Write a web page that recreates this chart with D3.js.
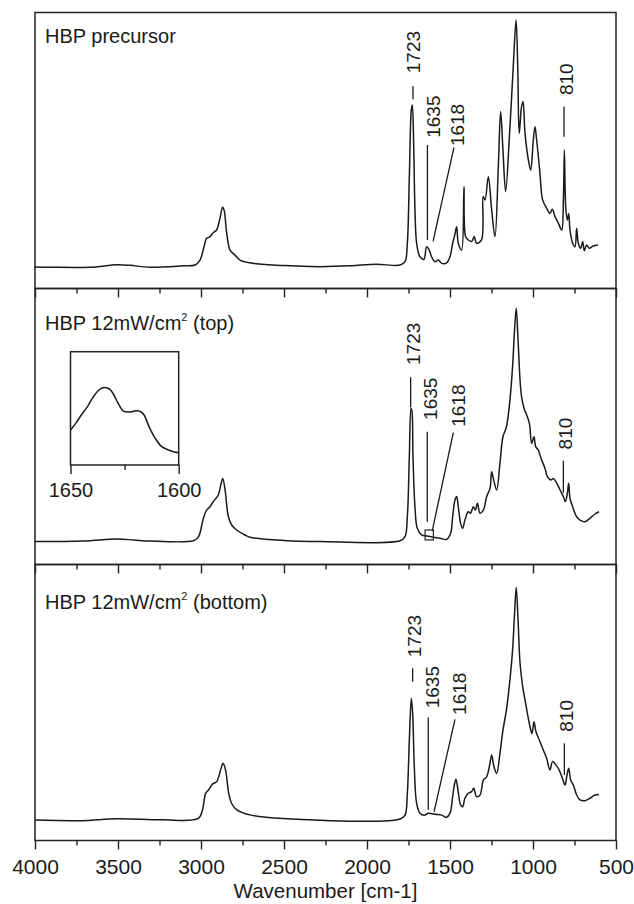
<!DOCTYPE html>
<html lang="en">
<head>
<meta charset="UTF-8">
<title>FTIR spectra</title>
<script src="https://cdn.jsdelivr.net/npm/d3@7"></script>
<style>
    body {margin:0; background:#fff;}
    text {font-family:"Liberation Sans", Arial, Helvetica, sans-serif; fill:#1a1a1a;}
    .frame {fill:none; stroke:#222; stroke-width:1.5;}
    .spec {fill:none; stroke:#1a1a1a; stroke-width:1.5; stroke-linejoin:round;}
    .lead {stroke:#1a1a1a; stroke-width:1.3;}
    .tick line {stroke:#222; stroke-width:1.4;}
</style>
</head>
<body>
<div id="chart"></div>
<script>

// ---- data ----
var xTicks = [4000, 3500, 3000, 2500, 2000, 1500, 1000, 500];
var xMinor = [3750, 3250, 2750, 2250, 1750, 1250, 750];

var panelTitles = ["HBP precursor", "HBP 12mW/cm", "HBP 12mW/cm"];
var panelTitleTail = ["", " (top)", " (bottom)"];

var precursorWn = [4000,3910,3669,3508,3428,3307,3107,3036,3006,2982,2966,2950,2926,2906,2886,2870,2861,2845,2825,2795,2765,2705,2500,2283,2100,1946,1801,1771,1757,1745,1733,1727,1719,1711,1701,1681,1657,1641,1625,1611,1590,1570,1550,1520,1500,1484,1470,1460,1450,1430,1416,1406,1390,1370,1354,1340,1310,1300,1289,1269,1249,1229,1209,1195,1181,1165,1141,1119,1102,1092,1083,1069,1060,1048,1028,1014,998,988,978,958,942,918,898,884,867,847,827,817,811,803,793,785,777,761,747,737,727,713,701,691,677,661,637,608];
var precursorAbs = [0.078,0.077,0.077,0.086,0.084,0.077,0.082,0.085,0.103,0.151,0.182,0.186,0.202,0.212,0.254,0.294,0.284,0.200,0.139,0.121,0.103,0.093,0.083,0.079,0.082,0.088,0.085,0.097,0.164,0.405,0.647,0.665,0.527,0.284,0.164,0.115,0.106,0.151,0.139,0.115,0.097,0.103,0.091,0.093,0.115,0.164,0.197,0.224,0.164,0.139,0.369,0.188,0.176,0.170,0.188,0.164,0.176,0.333,0.321,0.405,0.284,0.188,0.441,0.641,0.502,0.351,0.562,0.804,0.973,0.804,0.562,0.659,0.677,0.562,0.466,0.429,0.538,0.586,0.538,0.417,0.321,0.291,0.272,0.287,0.260,0.236,0.212,0.321,0.502,0.296,0.248,0.272,0.212,0.164,0.151,0.218,0.164,0.146,0.170,0.137,0.158,0.146,0.154,0.158];

var topWn = [4000,3709,3508,3408,3307,3046,3016,2986,2966,2946,2926,2896,2881,2869,2855,2835,2815,2785,2735,2705,2500,2283,1801,1771,1757,1745,1735,1729,1723,1711,1697,1671,1641,1601,1560,1520,1496,1484,1470,1460,1450,1436,1424,1410,1390,1376,1360,1347,1335,1319,1299,1279,1259,1249,1239,1219,1199,1181,1160,1139,1123,1111,1101,1090,1078,1069,1054,1038,1022,1008,994,984,969,948,928,913,893,878,858,837,817,805,793,785,777,761,737,717,687,657,627,602];
var topAbs = [0.083,0.085,0.092,0.089,0.085,0.086,0.099,0.167,0.197,0.209,0.228,0.252,0.288,0.312,0.270,0.173,0.143,0.125,0.107,0.099,0.087,0.083,0.086,0.101,0.173,0.391,0.566,0.554,0.391,0.209,0.131,0.107,0.103,0.099,0.095,0.091,0.113,0.173,0.234,0.246,0.209,0.149,0.131,0.161,0.191,0.186,0.209,0.197,0.222,0.186,0.197,0.246,0.276,0.336,0.312,0.270,0.367,0.463,0.499,0.596,0.717,0.850,0.928,0.813,0.668,0.608,0.566,0.542,0.512,0.439,0.463,0.427,0.415,0.379,0.349,0.318,0.306,0.312,0.296,0.270,0.246,0.228,0.258,0.294,0.240,0.209,0.173,0.161,0.155,0.167,0.183,0.191];

var bottomWn = [4000,3720,3502,3234,3016,2991,2972,2955,2930,2906,2882,2867,2852,2833,2816,2784,2699,2505,1801,1771,1757,1745,1733,1725,1715,1701,1681,1651,1631,1590,1550,1520,1500,1484,1474,1464,1452,1436,1424,1410,1390,1370,1357,1340,1319,1299,1279,1259,1249,1235,1219,1199,1181,1160,1139,1123,1111,1101,1090,1078,1062,1048,1034,1018,1006,994,982,962,938,918,898,882,862,842,821,807,797,785,773,757,737,717,687,657,627,602];
var bottomAbs = [0.074,0.072,0.079,0.075,0.080,0.111,0.171,0.183,0.205,0.213,0.255,0.280,0.255,0.171,0.135,0.111,0.092,0.080,0.078,0.092,0.171,0.364,0.515,0.461,0.267,0.135,0.099,0.092,0.099,0.095,0.092,0.084,0.099,0.159,0.201,0.222,0.183,0.129,0.122,0.153,0.171,0.177,0.189,0.159,0.165,0.219,0.231,0.280,0.310,0.267,0.243,0.316,0.400,0.473,0.582,0.690,0.823,0.917,0.799,0.642,0.557,0.509,0.461,0.412,0.388,0.430,0.394,0.364,0.328,0.298,0.255,0.286,0.274,0.255,0.222,0.201,0.231,0.262,0.219,0.201,0.165,0.147,0.144,0.153,0.165,0.167];

// zoomed inset (panel 2), 1650-1600 cm-1
var insetWn = [1650,1647.5,1645,1642,1639.5,1637,1635,1633,1631.5,1630,1628,1625.5,1622.5,1620.5,1619,1617.5,1616,1613.5,1611,1608,1605,1602,1600];
var insetAbs = [0.309,0.37,0.441,0.52,0.60,0.66,0.682,0.68,0.662,0.62,0.545,0.475,0.468,0.476,0.479,0.47,0.441,0.33,0.24,0.165,0.135,0.115,0.109];
var insetTicks = [1650, 1600];
var insetMinor = [1625];

// peak callouts: label, text anchor (wn, value), leader line ends (wn, value)
var callouts = [
    [
        {label:"1723", tx:1721, tv:0.780, line:[[1723,0.734],[1723,0.686]]},
        {label:"1635", tx:1601, tv:0.546, line:[[1636,0.520],[1636,0.176]]},
        {label:"1618", tx:1454, tv:0.516, line:[[1476,0.511],[1602,0.171]]},
        {label:"810",  tx:797,  tv:0.701, line:[[813,0.659],[813,0.550]]}
    ],
    [
        {label:"1723", tx:1721, tv:0.723, line:[[1737,0.678],[1737,0.570]]},
        {label:"1635", tx:1620, tv:0.524, line:[[1637,0.481],[1637,0.155]]},
        {label:"1618", tx:1450, tv:0.499, line:[[1480,0.478],[1607,0.122]]},
        {label:"810",  tx:805,  tv:0.417, line:[[817,0.376],[817,0.260]]}
    ],
    [
        {label:"1723", tx:1714, tv:0.664, line:[[1725,0.624],[1725,0.575]]},
        {label:"1635", tx:1608, tv:0.479, line:[[1631,0.446],[1631,0.111]]},
        {label:"1618", tx:1442, tv:0.455, line:[[1470,0.439],[1596,0.104]]},
        {label:"810",  tx:797,  tv:0.394, line:[[811,0.352],[811,0.237]]}
    ]
];

var series = [
    {wn: precursorWn, abs: precursorAbs},
    {wn: topWn, abs: topAbs},
    {wn: bottomWn, abs: bottomAbs}
];

// ---- layout ----
var width = 634, height = 904,
    left = 35, right = 616,
    panelH = 276,
    panelTop = [12.5, 288.5, 564.5],
    titleDy = [30, 41, 44];

var svg = d3.select("#chart").append("svg")
    .attr("width", width)
    .attr("height", height);

var x = d3.scaleLinear().domain([4000, 500]).range([left, right]);

var line = d3.line()
    .x(function(d) { return x(d[0]); })
    .curve(d3.curveCatmullRom.alpha(0.5));

function styleTicks(sel, size, yOff) {
    sel.selectAll(".domain").remove();
    sel.selectAll("text")
        .attr("font-size", size).attr("dy", null).attr("y", yOff)
        .style("font-family", "'Liberation Sans', Arial, sans-serif")
        .attr("fill", "#1a1a1a");
}

series.forEach(function(s, i) {
    var top = panelTop[i];
    var y = d3.scaleLinear().domain([0, 1]).range([top + panelH, top]);
    var g = svg.append("g");

    g.append("rect").attr("class", "frame")
        .attr("x", left).attr("y", top)
        .attr("width", right - left).attr("height", panelH);

    // bottom ticks, pointing outward
    var ax = g.append("g").attr("transform", "translate(0," + (top + panelH) + ")")
        .call(d3.axisBottom(x).tickValues(xTicks).tickSize(9)
            .tickFormat(i == 2 ? d3.format("d") : ""));
    styleTicks(ax, 21, 33);
    var axm = g.append("g").attr("transform", "translate(0," + (top + panelH) + ")")
        .call(d3.axisBottom(x).tickValues(xMinor).tickSize(5).tickFormat(""));
    styleTicks(axm, 21, 33);

    var pts = d3.zip(s.wn, s.abs);
    g.append("path").attr("class", "spec")
        .attr("d", line.y(function(d) { return y(d[1]); })(pts));

    // panel title
    var t = g.append("text").attr("x", 45).attr("y", top + titleDy[i])
        .attr("font-size", 20).text(panelTitles[i]);
    if (i > 0) {
        t.append("tspan").attr("font-size", 11).attr("dy", -9).text("2");
        t.append("tspan").attr("dy", 9).text(panelTitleTail[i]);
    }

    // callouts
    callouts[i].forEach(function(c) {
        g.append("line").attr("class", "lead")
            .attr("x1", x(c.line[0][0])).attr("y1", y(c.line[0][1]))
            .attr("x2", x(c.line[1][0])).attr("y2", y(c.line[1][1]));
        g.append("text")
            .attr("transform", "translate(" + x(c.tx) + "," + y(c.tv) + ") rotate(-90)")
            .attr("dy", "0.35em")
            .attr("font-size", 19)
            .text(c.label);
    });

    if (i == 1) {
        // box marking the zoomed range
        g.append("rect")
            .attr("x", x(1650)).attr("y", y(0.125))
            .attr("width", x(1600) - x(1650)).attr("height", y(0.089) - y(0.125))
            .attr("fill", "none").attr("stroke", "#222").attr("stroke-width", 1.2);

        var ix = d3.scaleLinear().domain([1650, 1600]).range([70.5, 178.7]);
        var iy = d3.scaleLinear().domain([0, 1]).range([465, 351.7]);
        var ig = svg.append("g");
        ig.append("rect").attr("class", "frame")
            .attr("x", 70.5).attr("y", 351.7)
            .attr("width", 108.2).attr("height", 113.3);
        var iax = ig.append("g").attr("transform", "translate(0,465)")
            .call(d3.axisBottom(ix).tickValues(insetTicks).tickSize(9).tickFormat(d3.format("d")));
        styleTicks(iax, 20, 32);
        var iaxm = ig.append("g").attr("transform", "translate(0,465)")
            .call(d3.axisBottom(ix).tickValues(insetMinor).tickSize(5).tickFormat(""));
        styleTicks(iaxm, 20, 32);
        ig.append("path").attr("class", "spec")
            .attr("d", d3.line()
                .x(function(d) { return ix(d[0]); })
                .y(function(d) { return iy(d[1]); })
                .curve(d3.curveCatmullRom.alpha(0.5))(d3.zip(insetWn, insetAbs)));
    }
});

svg.append("text")
    .attr("x", (left + right) / 2).attr("y", 898)
    .attr("text-anchor", "middle")
    .attr("font-size", 20.5)
    .text("Wavenumber [cm-1]");

</script>
</body>
</html>
